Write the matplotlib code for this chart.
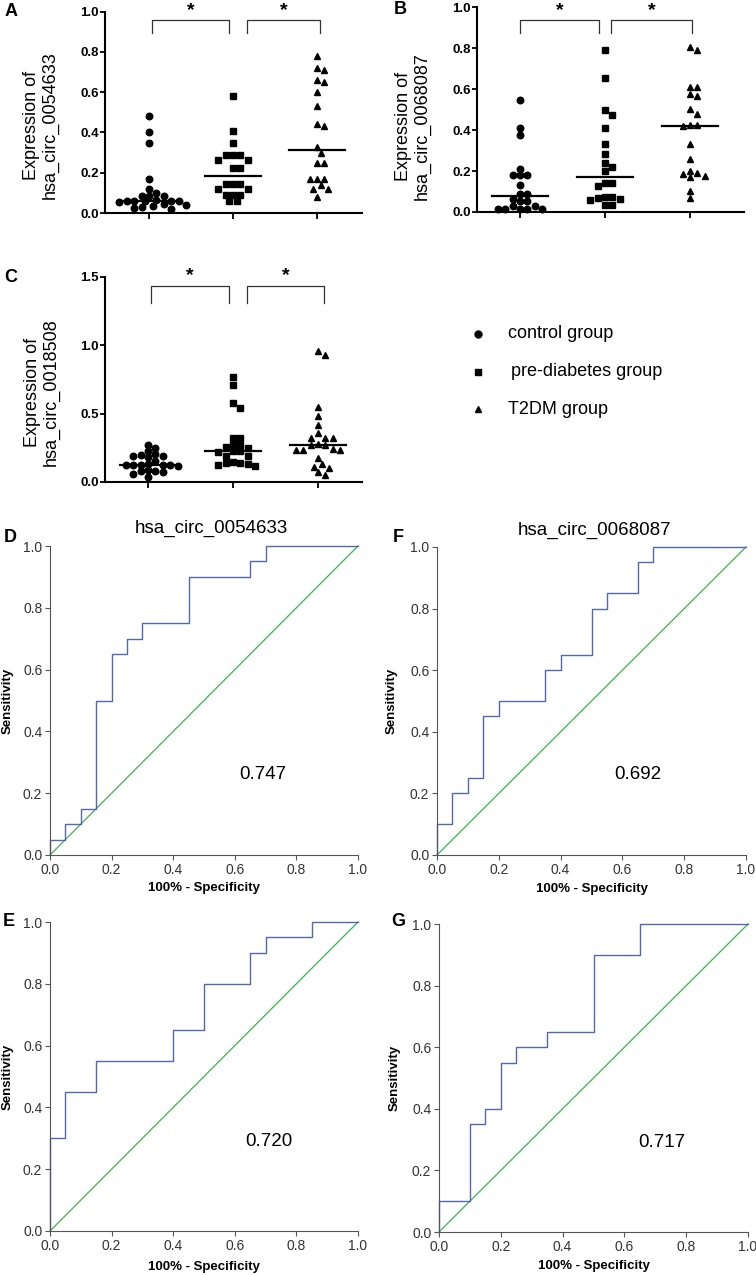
import numpy as np
import matplotlib.pyplot as plt
from matplotlib.lines import Line2D

plt.rcParams['font.family'] = ['Liberation Sans', 'DejaVu Sans']

# =========================
# 1. data
# =========================
groups = ['control group', 'pre-diabetes group', 'T2DM group']
markers = ['o', 's', '^']

# A: hsa_circ_0054633
ctrl_A = [0.48, 0.40, 0.35, 0.17, 0.12, 0.10, 0.085, 0.085, 0.085, 0.064, 0.062,
          0.061, 0.060, 0.060, 0.058, 0.057, 0.045, 0.040, 0.035, 0.030, 0.025, 0.020]
pre_A = [0.58, 0.405, 0.35, 0.29, 0.29, 0.29, 0.265, 0.265, 0.225, 0.225,
         0.145, 0.145, 0.145, 0.12, 0.12, 0.09, 0.09, 0.09, 0.06, 0.06]
t2dm_A = [0.78, 0.72, 0.71, 0.66, 0.65, 0.60, 0.53, 0.44, 0.43, 0.33,
          0.30, 0.25, 0.25, 0.17, 0.17, 0.17, 0.14, 0.12, 0.12, 0.08]

# B: hsa_circ_0068087
ctrl_B = [0.545, 0.41, 0.375, 0.21, 0.18, 0.18, 0.18, 0.13, 0.09, 0.09,
          0.065, 0.055, 0.055, 0.03, 0.03, 0.015, 0.015, 0.015, 0.015, 0.015]
pre_B = [0.79, 0.655, 0.50, 0.475, 0.41, 0.33, 0.285, 0.24, 0.22, 0.20,
         0.14, 0.14, 0.125, 0.075, 0.07, 0.065, 0.075, 0.06, 0.035, 0.035]
t2dm_B = [0.805, 0.79, 0.61, 0.61, 0.575, 0.565, 0.505, 0.48, 0.425, 0.42,
          0.425, 0.33, 0.26, 0.19, 0.175, 0.17, 0.185, 0.20, 0.105, 0.07]

# C: hsa_circ_0018508
ctrl_C = [0.27, 0.25, 0.225, 0.205, 0.19, 0.18, 0.19, 0.195, 0.15, 0.125, 0.125,
          0.125, 0.125, 0.125, 0.12, 0.13, 0.08, 0.075, 0.08, 0.085, 0.055, 0.04]
pre_C = [0.765, 0.71, 0.575, 0.54, 0.325, 0.32, 0.27, 0.27, 0.255, 0.25, 0.225,
         0.225, 0.22, 0.19, 0.19, 0.14, 0.125, 0.12, 0.13, 0.14, 0.145]
t2dm_C = [0.955, 0.93, 0.545, 0.48, 0.415, 0.355, 0.32, 0.32, 0.32, 0.275, 0.27,
          0.27, 0.24, 0.235, 0.235, 0.235, 0.175, 0.135, 0.11, 0.105, 0.07, 0.05]

# ROC curves (100% - specificity, sensitivity)
roc_D_x = [0, 0, 0.05, 0.05, 0.10, 0.10, 0.15, 0.15, 0.20, 0.20, 0.25, 0.25, 0.30, 0.30,
           0.45, 0.45, 0.65, 0.65, 0.70, 0.70, 1.0]
roc_D_y = [0, 0.05, 0.05, 0.10, 0.10, 0.15, 0.15, 0.50, 0.50, 0.65, 0.65, 0.70, 0.70, 0.75,
           0.75, 0.90, 0.90, 0.95, 0.95, 1.0, 1.0]
roc_F_x = [0, 0, 0.05, 0.05, 0.10, 0.10, 0.15, 0.15, 0.20, 0.20, 0.35, 0.35, 0.40, 0.40,
           0.50, 0.50, 0.55, 0.55, 0.65, 0.65, 0.70, 0.70, 1.0]
roc_F_y = [0, 0.10, 0.10, 0.20, 0.20, 0.25, 0.25, 0.45, 0.45, 0.50, 0.50, 0.60, 0.60, 0.65,
           0.65, 0.80, 0.80, 0.85, 0.85, 0.95, 0.95, 1.0, 1.0]
roc_E_x = [0, 0, 0.05, 0.05, 0.15, 0.15, 0.40, 0.40, 0.50, 0.50, 0.65, 0.65, 0.70, 0.70,
           0.85, 0.85, 1.0]
roc_E_y = [0, 0.30, 0.30, 0.45, 0.45, 0.55, 0.55, 0.65, 0.65, 0.80, 0.80, 0.90, 0.90, 0.95,
           0.95, 1.0, 1.0]
roc_G_x = [0, 0, 0.10, 0.10, 0.15, 0.15, 0.20, 0.20, 0.25, 0.25, 0.35, 0.35, 0.50, 0.50,
           0.65, 0.65, 1.0]
roc_G_y = [0, 0.10, 0.10, 0.35, 0.35, 0.40, 0.40, 0.55, 0.55, 0.60, 0.60, 0.65, 0.65, 0.90,
           0.90, 1.0, 1.0]
auc = {'D': '0.747', 'F': '0.692', 'E': '0.720', 'G': '0.717'}

# =========================
# 2. helpers
# =========================
W, H = 756, 1275
fig = plt.figure(figsize=(W / 100, H / 100), dpi=100)


def rect(l, t, r, b):
    return [l / W, 1 - b / H, (r - l) / W, (b - t) / H]


def fxy(x, y):
    return x / W, 1 - y / H


def swarm(ax, xc, vals, dx=7.4, dy=6.2):
    # GraphPad-like scatter: spread points sideways until they don't overlap
    vals = np.asarray(vals, float)
    pts = ax.transData.transform(np.column_stack([np.full(len(vals), float(xc)), vals]))
    cands = [0.0] + [s * k * dx / 2 for k in range(1, 40) for s in (1, -1)]
    placed, xs = [], np.zeros(len(vals))
    for i in np.argsort(-vals):
        px, py = pts[i]
        for c in cands:
            cx = px + c
            if all(((cx - qx) / dx) ** 2 + ((py - qy) / dy) ** 2 >= 0.95 for qx, qy in placed):
                break
        placed.append((cx, py))
        xs[i] = cx
    return ax.transData.inverted().transform(np.column_stack([xs, pts[:, 1]]))[:, 0]


narrow = ['Liberation Sans Narrow', 'Liberation Sans']


def dot_panel(r, xlim, ylim, yticks, series, ylab, lab_xy, letter, let_xy,
              br_x, br_top, br_bot, star_y):
    ax = fig.add_axes(rect(*r))
    ax.set_xlim(*xlim)
    ax.set_ylim(*ylim)
    for i, (vals, m) in enumerate(zip(series, markers)):
        xs = swarm(ax, i, vals)
        ax.plot(xs, vals, ls='none', marker=m, ms=4.7, color='black', clip_on=False)
        med = np.median(vals)
        ax.plot([i - 0.33, i + 0.33], [med, med], color='black', lw=1.6)
    for s in ['top', 'right']:
        ax.spines[s].set_visible(False)
    for s in ['left', 'bottom']:
        ax.spines[s].set_linewidth(1.5)
    ax.set_xticks([0, 1, 2])
    ax.set_xticklabels([])
    ax.set_yticks(yticks)
    ax.set_yticklabels([f'{t:.1f}' for t in yticks], family=narrow,
                       fontweight='bold', fontsize=9.5)
    ax.tick_params(axis='y', length=3.5, width=1.3, pad=1)
    ax.tick_params(axis='x', length=4, width=1.3)
    # significance brackets
    for x0, x1 in br_x:
        ax.plot([x0, x0, x1, x1], [br_bot, br_top, br_top, br_bot], color='#333333',
                lw=0.9, clip_on=False)
        ax.text((x0 + x1) / 2, star_y, '*', ha='center', va='center', fontsize=14,
                fontweight='bold', clip_on=False)
    fig.text(*fxy(*lab_xy), ylab, rotation=90, ha='center', va='center',
             fontsize=13, linespacing=1.15, multialignment='center')
    fig.text(*fxy(*let_xy), letter, ha='center', va='center', fontsize=13,
             fontweight='bold')
    return ax


def roc_panel(r, fx, fy, letter, let_xy, auc_txt, auc_xy, title=None, title_xy=None,
              ylab_x=-0.14, xlab_y=-0.11):
    ax = fig.add_axes(rect(*r))
    ax.plot([0, 1], [0, 1], color='#3cb44b', lw=0.9, clip_on=False)
    ax.plot(fx, fy, color='#5468b0', lw=1.0, clip_on=False)
    ax.set_xlim(0, 1)
    ax.set_ylim(0, 1)
    ticks = np.arange(0, 1.01, 0.2)
    ax.set_xticks(ticks)
    ax.set_yticks(ticks)
    ax.set_xticklabels([f'{t:.1f}' for t in ticks])
    ax.set_yticklabels([f'{t:.1f}' for t in ticks])
    for s in ['top', 'right']:
        ax.spines[s].set_visible(False)
    for s in ['left', 'bottom']:
        ax.spines[s].set_color('#555555')
        ax.spines[s].set_linewidth(0.8)
    ax.tick_params(length=3.5, width=0.8, color='#555555', labelsize=10,
                   labelcolor='#333333', pad=2)
    ax.text(ylab_x, 0.5, 'Sensitivity', transform=ax.transAxes, rotation=90,
            ha='center', va='center', fontsize=9.5, fontweight='bold')
    ax.text(0.5, xlab_y, '100% - Specificity', transform=ax.transAxes,
            ha='center', va='center', fontsize=9.5, fontweight='bold')
    ax.text(*auc_xy, auc_txt, transform=ax.transAxes, ha='center', va='center',
            fontsize=13.5)
    if title:
        fig.text(*fxy(*title_xy), title, ha='center', va='center', fontsize=13.5)
    fig.text(*fxy(*let_xy), letter, ha='center', va='center', fontsize=13,
             fontweight='bold')
    return ax


# =========================
# 3. dot plots
# =========================
dot_panel((105, 11.7, 362, 213), (-0.524, 2.536), (0, 1.0), np.arange(0, 1.01, 0.2),
          [ctrl_A, pre_A, t2dm_A], 'Expression of\nhsa_circ_0054633', (41, 125),
          'A', (11, 11), [(0.04, 0.95), (1.17, 2.04)], 0.96, 0.895, 1.005)
dot_panel((477, 7.3, 744, 212), (-0.506, 2.635), (0, 1.0), np.arange(0, 1.01, 0.2),
          [ctrl_B, pre_B, t2dm_B], 'Expression of\nhsa_circ_0068087', (413, 126),
          'B', (400, 10), [(0.0, 0.93), (1.07, 2.02)], 0.938, 0.874, 0.985)
dot_panel((105, 276.7, 362, 482), (-0.506, 2.518), (0, 1.5), [0, 0.5, 1.0, 1.5],
          [ctrl_C, pre_C, t2dm_C], 'Expression of\nhsa_circ_0018508', (42, 392),
          'C', (11, 277), [(0.04, 0.95), (1.17, 2.07)], 1.43, 1.31, 1.505)

# legend
for k, (g, m) in enumerate(zip(groups, markers)):
    y = 334 + k * 37.5
    fig.add_artist(Line2D([478 / W], [1 - y / H], marker=m, ms=5,
                          color='black', ls='none', transform=fig.transFigure))
    fig.text(*fxy(508 + (3 if k == 1 else 0), y), g, ha='left', va='center', fontsize=13)

# =========================
# 4. ROC panels
# =========================
roc_panel((50, 546, 358, 855), roc_D_x, roc_D_y, 'D', (10, 538), auc['D'], (0.69, 0.26),
          'hsa_circ_0054633', (211, 528), ylab_x=-0.138, xlab_y=-0.107)
roc_panel((437, 547, 746, 855), roc_F_x, roc_F_y, 'F', (398, 538), auc['F'], (0.65, 0.26),
          'hsa_circ_0068087', (595, 530), ylab_x=-0.146, xlab_y=-0.11)
roc_panel((50, 922, 358, 1231), roc_E_x, roc_E_y, 'E', (9, 921), auc['E'], (0.71, 0.29),
          ylab_x=-0.138, xlab_y=-0.117)
roc_panel((439, 924, 748, 1232), roc_G_x, roc_G_y, 'G', (398, 922), auc['G'], (0.72, 0.29),
          ylab_x=-0.142, xlab_y=-0.11)

fig.savefig('out.png', dpi=100)
